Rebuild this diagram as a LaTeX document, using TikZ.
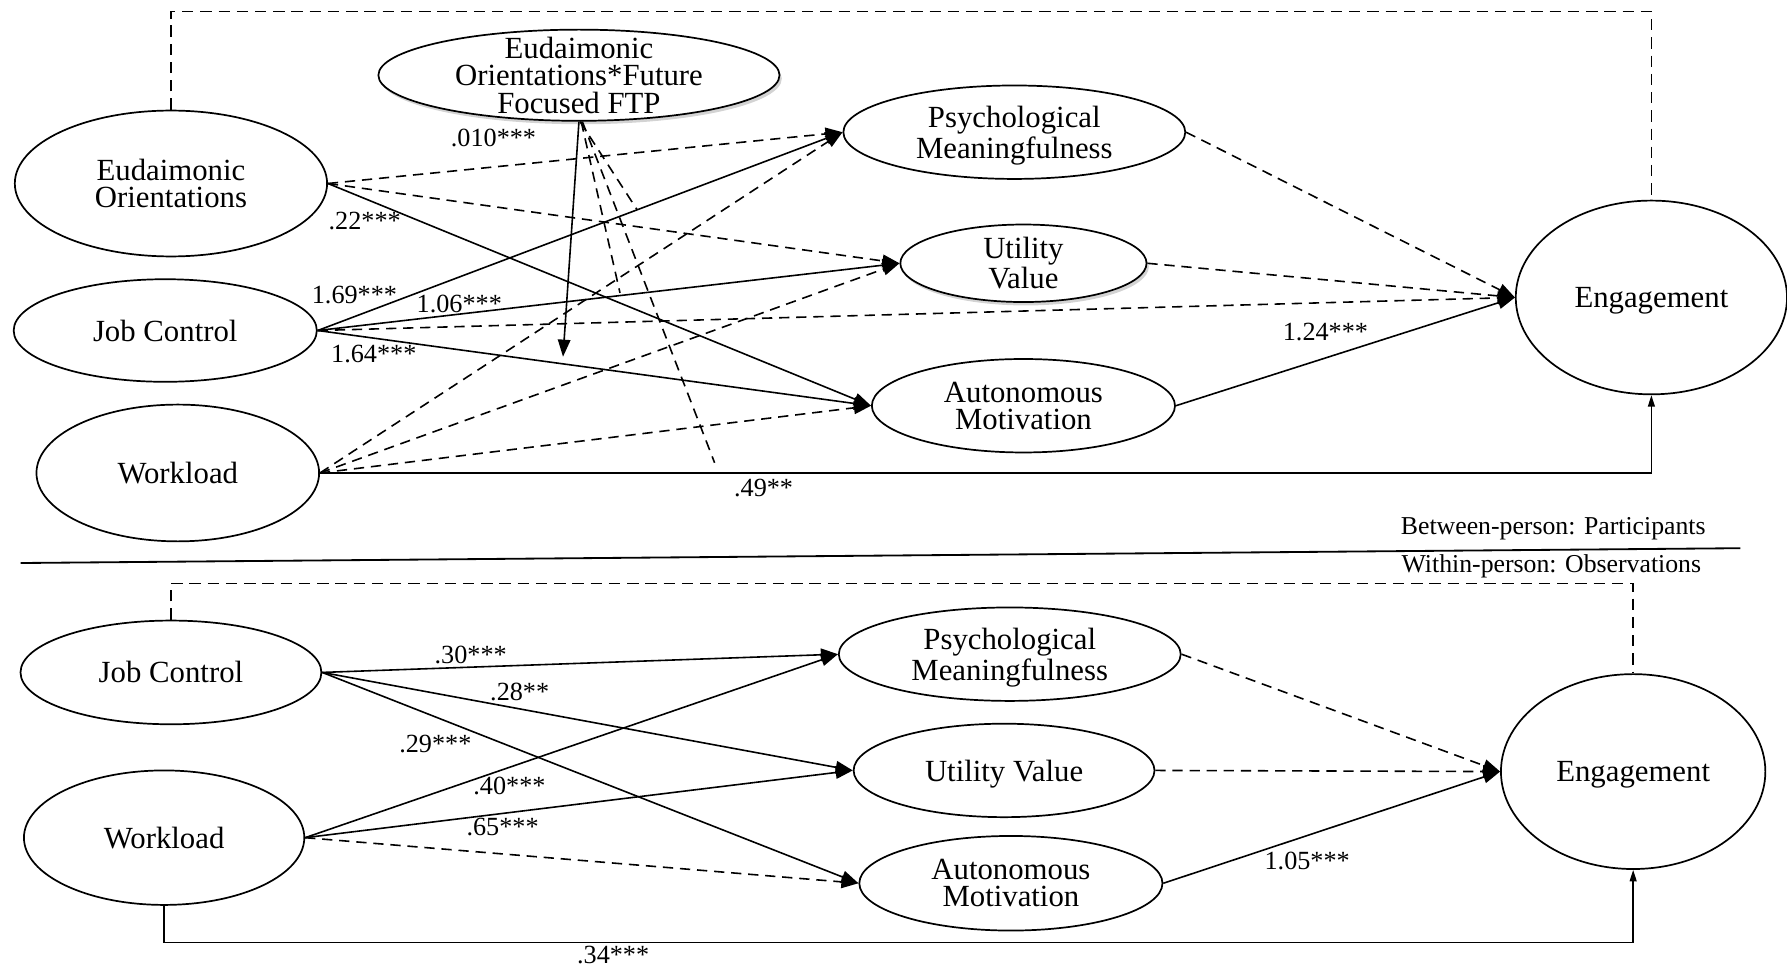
\documentclass[tikz,border=0pt]{standalone}
\usepackage{fontspec}
\setmainfont{Liberation Serif}
\usetikzlibrary{arrows.meta,shapes.geometric,shadows}

\begin{document}
\begin{tikzpicture}[x=0.5pt,y=-0.5pt,
  lv/.style={draw, ellipse, line width=0.75pt, inner sep=0pt, fill=white},
  shade/.style={drop shadow={opacity=0.35, shadow xshift=1pt, shadow yshift=-1.5pt}},
  txt/.style={font=\fontsize{13.5}{12}\selectfont, align=center, inner sep=0pt},
  dtxt/.style={txt, yshift=-1.5pt},
  coef/.style={font=\fontsize{11.5}{12}\selectfont, inner sep=0pt},
  note/.style={font=\fontsize{11.3}{12}\selectfont, inner sep=0pt},
  sig/.style={line width=0.7pt, -{Triangle[length=7.5pt,width=5.5pt]}},
  ns/.style={line width=0.7pt, dash pattern=on 4.5pt off 3pt, -{Triangle[length=7.5pt,width=5.5pt]}},
  nsline/.style={line width=0.7pt, dash pattern=on 4.5pt off 3pt},
  direct/.style={line width=0.7pt, -{Triangle[length=5pt,width=3pt]}},
  corr/.style={line width=0.7pt, dash pattern=on 5pt off 3pt},
]
\useasboundingbox (0,0) rectangle (1568,848);

% ---------------- Between-person level ----------------
\node[lv, minimum width=137pt, minimum height=64pt,
      label={[txt]center:{Eudaimonic\\Orientations}}] (eoA) at (150,161) {};
\node[lv, minimum width=133pt, minimum height=45pt,
      label={[txt]center:{Job Control}}] (jcA) at (145,290) {};
\node[lv, minimum width=124pt, minimum height=60pt,
      label={[txt]center:{Workload}}] (wlA) at (156,415) {};
\node[lv, shade, minimum width=176pt, minimum height=40pt,
      label={[txt]center:{Eudaimonic\\Orientations*Future\\Focused FTP}}] (ftp) at (508,66) {};
\node[lv, minimum width=150pt, minimum height=41pt,
      label={[dtxt]center:{Psychological\\Meaningfulness}}] (pmA) at (890,116) {};
\node[lv, shade, minimum width=108pt, minimum height=34pt,
      label={[txt]center:{Utility\\Value}}] (uvA) at (898,231) {};
\node[lv, minimum width=133pt, minimum height=41pt,
      label={[txt]center:{Autonomous\\Motivation}}] (amA) at (898,356) {};
\node[lv, minimum width=119pt, minimum height=85pt,
      label={[dtxt]center:{Engagement}}] (egA) at (1449,261) {};

% free ends of the moderation paths
\coordinate (m1) at (494,313);
\coordinate (m2) at (559,184);
\coordinate (m3) at (544,257);
\coordinate (m4) at (627,406);
\coordinate (topA) at (0,10);

\draw[ns] (eoA.east) -- (pmA.west);
\draw[ns] (eoA.east) -- (uvA.west);
\draw[ns] (jcA.east) -- (egA.west);
\draw[ns] (wlA.east) -- (pmA.west);
\draw[ns] (wlA.east) -- (uvA.west);
\draw[ns] (wlA.east) -- (amA.west);
\draw[ns] (pmA.east) -- (egA.west);
\draw[ns] (uvA.east) -- (egA.west);
\draw[nsline] ([xshift=0.5pt]ftp.south) -- (m2);
\draw[nsline] ([xshift=1pt]ftp.south) -- (m3);
\draw[nsline] ([xshift=1.5pt]ftp.south) -- (m4);
\draw[sig] (eoA.east) -- (amA.west);
\draw[sig] (jcA.east) -- (pmA.west);
\draw[sig] (jcA.east) -- (uvA.west);
\draw[sig] (jcA.east) -- (amA.west);
\draw[sig] (amA.east) -- (egA.west);
\draw[sig] (ftp.south) -- (m1);
\draw[direct] (wlA.east) -| (egA.south);
\draw[corr] (eoA.north) |- (topA -| egA.north) -- (egA.north);

\node[coef] (c010) at (433,121) {.010***};
\node[coef] (c22)  at (320,194) {.22***};
\node[coef] (c169) at (311,259) {1.69***};
\node[coef] (c106) at (403,267) {1.06***};
\node[coef] (c164) at (328,311) {1.64***};
\node[coef] (c124) at (1163,291) {1.24***};
\node[coef] (c49)  at (670,428) {.49**};

% ---------------- level divider ----------------
\coordinate (divL) at (18,494);
\coordinate (divR) at (1527,481);
\draw[line width=0.8pt] (divL) -- (divR);
\node[note, anchor=east] (bp) at (1497,464) {Between-person: Participants};
\node[note, anchor=east] (wp) at (1493,497) {Within-person: Observations};

% ---------------- Within-person level ----------------
\node[lv, minimum width=132pt, minimum height=45.5pt,
      label={[txt]center:{Job Control}}] (jcB) at (150,590) {};
\node[lv, minimum width=123pt, minimum height=59pt,
      label={[txt]center:{Workload}}] (wlB) at (144,735) {};
\node[lv, minimum width=150pt, minimum height=41pt,
      label={[dtxt]center:{Psychological\\Meaningfulness}}] (pmB) at (886,574) {};
\node[lv, minimum width=132pt, minimum height=41pt,
      label={[dtxt]center:{Utility Value}}] (uvB) at (881,676) {};
\node[lv, minimum width=133pt, minimum height=41.5pt,
      label={[txt]center:{Autonomous\\Motivation}}] (amB) at (887,775) {};
\node[lv, minimum width=116pt, minimum height=85.5pt,
      label={[dtxt]center:{Engagement}}] (egB) at (1433,677) {};

\coordinate (topB) at (0,512);
\coordinate (baseB) at (0,827);

\draw[ns] (wlB.east) -- (amB.west);
\draw[ns] (pmB.east) -- (egB.west);
\draw[ns] (uvB.east) -- (egB.west);
\draw[sig] (jcB.east) -- (pmB.west);
\draw[sig] (jcB.east) -- (uvB.west);
\draw[sig] (jcB.east) -- (amB.west);
\draw[sig] (wlB.east) -- (pmB.west);
\draw[sig] (wlB.east) -- (uvB.west);
\draw[sig] (amB.east) -- (egB.west);
\draw[direct] (wlB.south) |- (baseB -| egB.south) -- (egB.south);
\draw[corr] (jcB.north) |- (topB -| egB.north) -- (egB.north);

\node[coef] (c30)  at (413,575) {.30***};
\node[coef] (c28)  at (456,607) {.28**};
\node[coef] (c29)  at (382,653) {.29***};
\node[coef] (c40)  at (447,690) {.40***};
\node[coef] (c65)  at (441,726) {.65***};
\node[coef] (c105) at (1147,755) {1.05***};
\node[coef] (c34)  at (538,838) {.34***};
\end{tikzpicture}
\end{document}
